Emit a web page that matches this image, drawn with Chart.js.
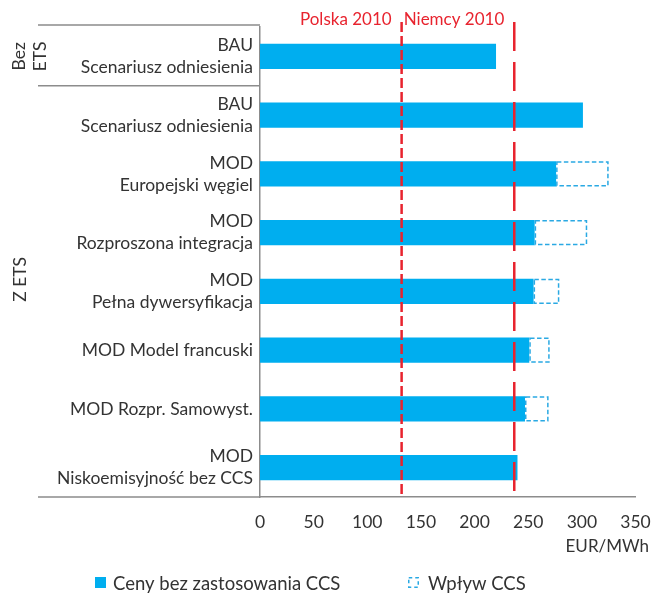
<!DOCTYPE html>
<html><head><meta charset="utf-8">
<script src="https://cdn.jsdelivr.net/npm/chart.js@4.4.0/dist/chart.umd.min.js"></script>
<style>html,body{margin:0;padding:0;background:#fff;overflow:hidden}#wrap{width:654px;height:595px;position:relative}canvas{display:block}</style>
</head><body><div id="wrap"><canvas id="c"></canvas></div>
<script>
const categories = [
  ["BAU", "Scenariusz odniesienia"],
  ["BAU", "Scenariusz odniesienia"],
  ["MOD", "Europejski węgiel"],
  ["MOD", "Rozproszona integracja"],
  ["MOD", "Pełna dywersyfikacja"],
  "MOD Model francuski",
  "MOD Rozpr. Samowyst.",
  ["MOD", "Niskoemisyjność bez CCS"]
];
const groupLabels = [["Bez", "ETS"], ["Z ETS"]];
const groupFirst = [0, 1];
const groupLast = [0, 7];
const pricesNoCCS = [220, 301, 276, 256, 255, 251, 247, 240];
const ccsImpact = [0, 0, 49, 49, 24, 19, 22, 0];
const seriesLabels = ["Ceny bez zastosowania CCS", "Wpływ CCS"];
const refLabels = ["Polska 2010", "Niemcy 2010"];
const refValues = [132, 237];
const xMin = 0, xMax = 350, xStep = 50;
const xUnit = "EUR/MWh";

const FONT = "Lato, 'Noto Sans', sans-serif";
const FS = 17.5;
const TXT = "#333333";
const BLUE = "#00aeef";
const DASHBLUE = "#2aa9e3";
const RED = "#e8232e";
const GRAY = "#8c8c8c";

const overlay = {
  id: 'overlay',
  afterDatasetsDraw(chart) {
    const ctx = chart.ctx, xs = chart.scales.x, ca = chart.chartArea;
    const meta = chart.getDatasetMeta(1);
    ctx.save();
    ctx.strokeStyle = DASHBLUE; ctx.lineWidth = 1.5; ctx.setLineDash([4.5, 2.5]);
    meta.data.forEach((el, i) => {
      if (!ccsImpact[i]) return;
      const p = el.getProps(['x', 'y', 'base', 'height'], true);
      const l = Math.min(p.x, p.base), r = Math.max(p.x, p.base);
      ctx.strokeRect(l + 0.75, p.y - p.height / 2 + 0.75, r - l - 1.5, p.height - 1.5);
    });
    ctx.restore();
    const dashes = [[10, 4], [29, 11]];
    ctx.save();
    ctx.strokeStyle = RED; ctx.lineWidth = 2.5;
    ctx.font = "17px " + FONT; ctx.fillStyle = RED; ctx.textBaseline = 'middle'; ctx.textAlign = 'right';
    refValues.forEach((v, i) => {
      const x = xs.getPixelForValue(v);
      ctx.setLineDash(dashes[i]);
      ctx.beginPath(); ctx.moveTo(x, 22); ctx.lineTo(x, ca.bottom); ctx.stroke();
      ctx.fillText(refLabels[i], x - 10, 20);
    });
    ctx.restore();
  },
  afterDraw(chart) {
    const ctx = chart.ctx, ys = chart.scales.y, ca = chart.chartArea;
    const step = ys.getPixelForValue(1) - ys.getPixelForValue(0);
    ctx.save();
    ctx.strokeStyle = GRAY; ctx.lineWidth = 1.5;
    const x0 = 38;
    ctx.beginPath();
    ctx.moveTo(x0, ca.top - 2); ctx.lineTo(ca.left, ca.top - 2);
    for (let g = 0; g < groupLast.length - 1; g++) {
      const y = ys.getPixelForValue(groupLast[g]) + step / 2;
      ctx.moveTo(x0, y); ctx.lineTo(ca.left, y);
    }
    ctx.moveTo(x0, ca.bottom); ctx.lineTo(ca.left, ca.bottom);
    ctx.stroke();
    ctx.fillStyle = TXT; ctx.font = FS + "px " + FONT; ctx.textAlign = 'center'; ctx.textBaseline = 'middle';
    groupLabels.forEach((lines, g) => {
      let cy = (ys.getPixelForValue(groupFirst[g]) + ys.getPixelForValue(groupLast[g])) / 2;
      if (g === 1) cy -= 12;
      const n = lines.length;
      const cx = n > 1 ? 30 : 20;
      ctx.save();
      ctx.translate(cx, cy); ctx.rotate(-Math.PI / 2);
      lines.forEach((t, k) => ctx.fillText(t, 0, (k - (n - 1) / 2) * 21));
      ctx.restore();
    });
    ctx.font = "17px " + FONT;
    ctx.textAlign = 'right';
    ctx.fillText(xUnit, 649, 547);
    const ly = 583;
    ctx.fillStyle = BLUE; ctx.fillRect(95, ly - 6, 11, 11);
    ctx.strokeStyle = DASHBLUE; ctx.lineWidth = 1.5; ctx.setLineDash([3.5, 3]);
    ctx.strokeRect(408.75, ly - 5.25, 9.5, 9.5);
    ctx.setLineDash([]);
    ctx.font = "18.5px " + FONT;
    ctx.fillStyle = TXT; ctx.textAlign = 'left';
    ctx.fillText(seriesLabels[0], 113, ly + 1);
    ctx.fillText(seriesLabels[1], 428, ly + 1);
    ctx.restore();
  }
};

new Chart(document.getElementById('c'), {
  type: 'bar',
  data: {
    labels: categories,
    datasets: [
      { label: seriesLabels[0], data: pricesNoCCS, backgroundColor: BLUE, borderWidth: 0 },
      { label: seriesLabels[1], data: ccsImpact, backgroundColor: 'rgba(0,0,0,0)', borderWidth: 0 }
    ]
  },
  options: {
    indexAxis: 'y',
    responsive: true,
    maintainAspectRatio: false,
    animation: false,
    categoryPercentage: 1,
    barPercentage: 0.433,
    layout: { padding: { top: 27, right: 18.5, bottom: 62, left: 0 } },
    plugins: { legend: { display: false }, tooltip: { enabled: false } },
    scales: {
      x: {
        stacked: true, min: xMin, max: xMax,
        ticks: { stepSize: xStep, color: TXT, font: { family: FONT, size: FS, lineHeight: 1.2 }, padding: 14.5, maxRotation: 0 },
        grid: { display: false, drawTicks: false },
        border: { display: true, color: GRAY, width: 1.5 },
        afterFit(s) { s.height = 36; s.paddingLeft = 0; s.paddingRight = 0; }
      },
      y: {
        stacked: true,
        ticks: { color: TXT, font: { family: FONT, size: FS, lineHeight: 22 / FS }, padding: 7 },
        grid: { display: false, drawTicks: false },
        border: { display: true, color: GRAY, width: 1.5 },
        afterFit(s) { s.width = 260; s.paddingTop = 0; s.paddingBottom = 0; }
      }
    }
  },
  plugins: [overlay]
});
</script></body></html>
